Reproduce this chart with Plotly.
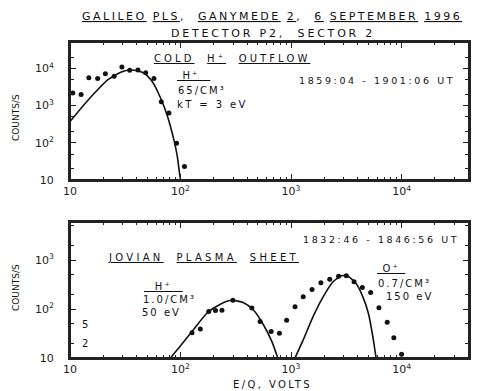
import plotly.graph_objects as go

# ---------------- data ----------------
# Top panel: cold H+ outflow, 1859:04-1901:06 UT
top_obs_e = [10.6, 12.6, 14.8, 17.8, 20.9, 25.1, 29.5, 34.7, 41.2, 48.4, 57.5, 67.0, 78.5, 92.0, 108.6]
top_obs_c = [2190, 2000, 5620, 5370, 7240, 6170, 10960, 8910, 9120, 7590, 5370, 1260, 631, 98, 23]
top_fit_e = [10.0, 12.6, 16.6, 21.9, 28.8, 33.1, 38.0, 46.8, 55.6, 66.1, 75.9, 87.1, 93.3, 97.7, 100.0, 102.0]
top_fit_c = [372, 851, 2140, 4900, 7940, 8910, 8910, 7410, 4370, 1580, 537, 120, 45, 16, 10, 7]

# Bottom panel: Jovian plasma sheet, 1832:46-1846:56 UT
bot_obs_e = [127, 151, 180, 207, 237, 298, 442, 525, 661, 785,
             912, 1086, 1288, 1549, 1862, 2239, 2692, 3162, 3715, 4416, 5248, 6237, 7413, 8511, 10000]
bot_obs_c = [33, 39, 89, 93, 95, 151, 105, 56, 35, 32,
             59, 112, 178, 251, 347, 407, 468, 479, 363, 275, 219, 107, 54, 26, 12]
hp_fit_e = [79.0, 81.3, 100, 127, 174, 229, 292, 372, 457, 562, 670, 759, 780]
hp_fit_c = [9.0, 10, 17.8, 34.7, 83.2, 126, 151, 135, 95.5, 47.9, 21.9, 10, 8.5]
op_fit_e = [1060, 1086, 1288, 1585, 1950, 2399, 2858, 3281, 3890, 4467, 5012, 5495, 5888, 6000]
op_fit_c = [8.5, 10, 23.4, 70.8, 178, 363, 479, 468, 331, 178, 81.3, 27.5, 10, 8.5]

x_ticks = [10, 100, 1000, 10000]
x_ticktext = ["10", "10<sup>2</sup>", "10<sup>3</sup>", "10<sup>4</sup>"]
x_minor = [m * d for d in (10, 100, 1000) for m in range(2, 10)] + [20000, 30000, 40000]
y1_ticks = [10, 100, 1000, 10000]
y1_ticktext = ["10", "10<sup>2</sup>", "10<sup>3</sup>", "10<sup>4</sup>"]
y1_minor = [20, 50, 200, 500, 2000, 5000, 20000]
y2_ticks = [10, 100, 1000]
y2_ticktext = ["10", "10<sup>2</sup>", "10<sup>3</sup>"]
y2_minor = [20, 50, 200, 500, 2000, 5000]

# ---------------- layout helpers ----------------
W, H = 482, 391
ML, MR, MT, MB = 70, 13, 42, 33
PW, PH = W - ML - MR, H - MT - MB
INK = "#111111"
LINE = "#222222"
FONT = "DejaVu Sans"


def px(xp, yp):
    return (xp - ML) / PW, (H - MB - yp) / PH


def ls(txt, sp):
    return f'<span style="letter-spacing:{sp}px">{txt}</span>'


fig = go.Figure()
fig.add_trace(go.Scatter(x=top_obs_e, y=top_obs_c, mode="markers", xaxis="x", yaxis="y",
                         marker=dict(color=INK, size=5), showlegend=False))
fig.add_trace(go.Scatter(x=top_fit_e, y=top_fit_c, mode="lines", xaxis="x", yaxis="y",
                         line=dict(color=INK, width=1.6, shape="spline", smoothing=0.6), showlegend=False))
fig.add_trace(go.Scatter(x=bot_obs_e, y=bot_obs_c, mode="markers", xaxis="x2", yaxis="y2",
                         marker=dict(color=INK, size=5), showlegend=False))
fig.add_trace(go.Scatter(x=hp_fit_e, y=hp_fit_c, mode="lines", xaxis="x2", yaxis="y2",
                         line=dict(color=INK, width=1.6, shape="spline", smoothing=0.6), showlegend=False))
fig.add_trace(go.Scatter(x=op_fit_e, y=op_fit_c, mode="lines", xaxis="x2", yaxis="y2",
                         line=dict(color=INK, width=1.6, shape="spline", smoothing=0.6), showlegend=False))

axis_common = dict(type="log", showgrid=False, zeroline=False, showline=True, linecolor=LINE,
                   linewidth=2, mirror="ticks", ticks="inside", ticklen=6, tickwidth=1.3,
                   tickcolor=LINE, tickfont=dict(family=FONT, size=11, color="#222"))

top_bottom_px = 180
bot_top_px = 222
fig.update_layout(
    width=W, height=H, margin=dict(l=ML, r=MR, t=MT, b=MB),
    paper_bgcolor="white", plot_bgcolor="white",
    xaxis=dict(**axis_common, range=[1, 4.61], anchor="y", domain=[0, 1],
               tickvals=x_ticks, ticktext=x_ticktext,
               minor=dict(tickvals=x_minor, ticks="inside", ticklen=3, tickcolor=LINE)),
    yaxis=dict(**axis_common, range=[1, 4.71], anchor="x",
               domain=[px(0, top_bottom_px)[1], 1],
               tickvals=y1_ticks, ticktext=y1_ticktext, ticklabelstandoff=12,
               minor=dict(tickvals=y1_minor, ticks="inside", ticklen=4, tickcolor=LINE)),
    xaxis2=dict(**axis_common, range=[1, 4.61], anchor="y2", domain=[0, 1],
                tickvals=x_ticks, ticktext=x_ticktext,
                minor=dict(tickvals=x_minor, ticks="inside", ticklen=3, tickcolor=LINE)),
    yaxis2=dict(**axis_common, range=[1, 3.78], anchor="x2",
                domain=[0, px(0, bot_top_px)[1]],
                tickvals=y2_ticks, ticktext=y2_ticktext, ticklabelstandoff=12,
                minor=dict(tickvals=y2_minor, ticks="inside", ticklen=4, tickcolor=LINE)),
)

# panel frames
for xr, yr in (("x domain", "y domain"), ("x2 domain", "y2 domain")):
    fig.add_shape(type="rect", xref=xr, yref=yr, x0=0, x1=1, y0=0, y1=1,
                  line=dict(color=LINE, width=2), layer="above")

anns = []


def add(text, xp, yp, size=10, sp=2.0, xanchor="left", angle=0):
    x, y = px(xp, yp)
    anns.append(dict(text=ls(text, sp) if sp else text, x=x, y=y, xref="paper", yref="paper",
                     xanchor=xanchor, yanchor="middle", showarrow=False, textangle=angle,
                     font=dict(family=FONT, size=size, color=INK)))


# titles
add("<u>GALILEO</u> <u>PLS</u>,  <u>GANYMEDE</u> <u>2</u>,  <u>6</u> <u>SEPTEMBER</u> <u>1996</u>",
    272, 16, size=11, sp=2.5, xanchor="center")
add("DETECTOR P2,  SECTOR 2", 273, 33, size=11, sp=2.8, xanchor="center")

# top panel texts
add("<u>COLD</u>  <u>H⁺</u>  <u>OUTFLOW</u>", 152, 58, size=10, sp=3.1)
add("<u>&nbsp;H⁺&nbsp;&nbsp;</u>", 175, 75, size=10, sp=2.2)
add("65/CM³", 176, 90, size=10, sp=2.0)
add("kT = 3 eV", 175, 105, size=10, sp=2.4)
add("1859:04 - 1901:06 UT", 297, 80, size=9.5, sp=2.6)

# bottom panel texts
add("1832:46 - 1846:56 UT", 301, 239, size=9.5, sp=2.6)
add("<u>JOVIAN</u>  <u>PLASMA</u>  <u>SHEET</u>", 106, 257, size=10, sp=3.3)
add("<u>&nbsp;&nbsp;H⁺&nbsp;&nbsp;</u>", 142, 286, size=10, sp=2.2)
add("1.0/CM³", 141, 299, size=10, sp=2.0)
add("50 eV", 140, 312, size=10, sp=2.0)
add("<u>&nbsp;O⁺&nbsp;</u>", 375, 268, size=10, sp=2.2)
add("0.7/CM³", 376, 283, size=10, sp=2.0)
add("150 eV", 384, 296, size=10, sp=2.0)

# inside y labels of the lower panel
add("5", 80, 324, size=10, sp=0)
add("2", 80, 343, size=10, sp=0)

# axis titles
add("COUNTS/S", 16, 118, size=9, sp=0, xanchor="center", angle=-90)
add("COUNTS/S", 16, 288, size=9, sp=0, xanchor="center", angle=-90)
add("E/Q, VOLTS", 272, 384, size=10, sp=2.4, xanchor="center")

fig.update_layout(annotations=anns)
fig.write_html("out.html", config={"displayModeBar": False},
               post_script="document.body.style.margin='0px';document.body.style.overflow='hidden';")
